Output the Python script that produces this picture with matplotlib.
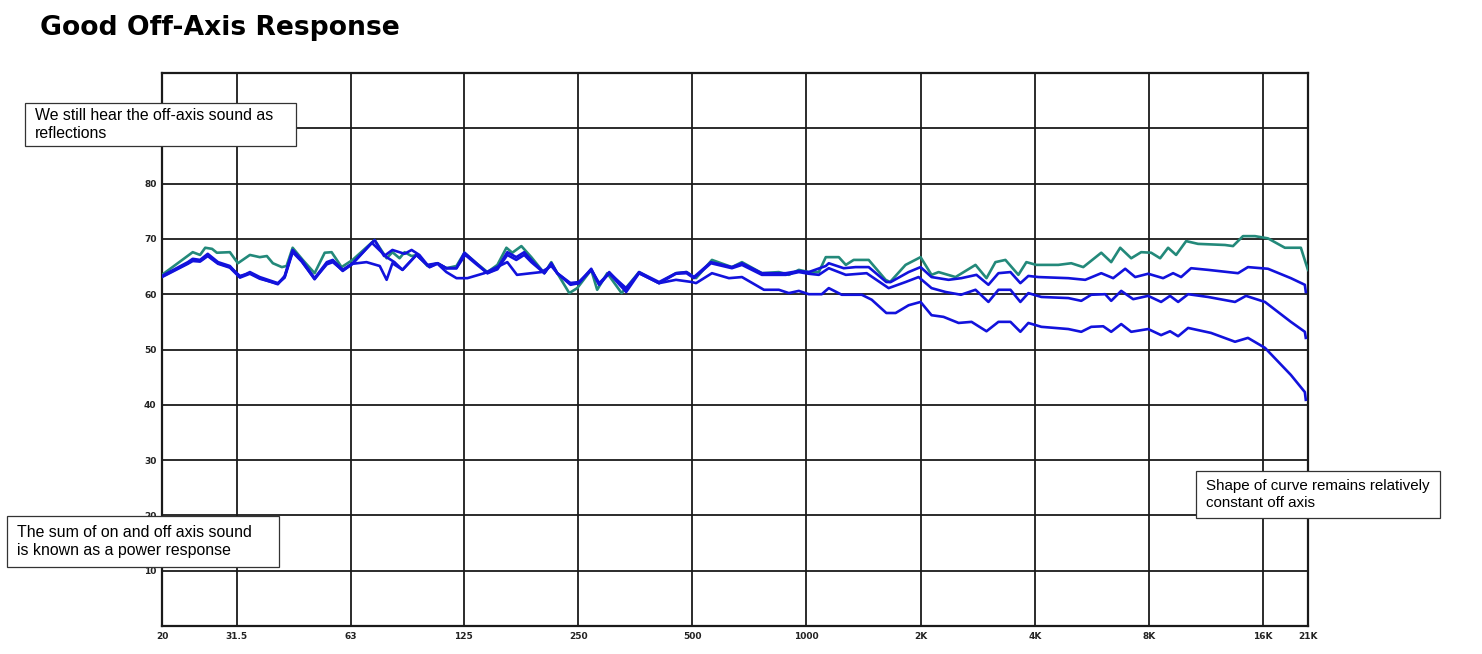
import matplotlib
matplotlib.use("Agg")
import matplotlib.pyplot as plt
from matplotlib.patches import Rectangle

W, H = 1482, 654

# on-axis (teal)
green_freq = [20, 24.1, 25.2, 26, 27.1, 27.9, 30.2, 31.7, 34.1, 36.2, 37.8, 39.2, 41.4, 42.6,
              44.2, 47, 50.5, 53.7, 56, 59.5, 63.6, 72.7, 78.2, 81, 84.6, 87.2, 91, 94.3,
              100.2, 106.5, 112.4, 119.5, 125.4, 134.9, 144.2, 153.2, 161.8, 167.7, 177.2,
              188.2, 203.7, 212.5, 220.3, 237, 248.7, 270.8, 280.7, 298.4, 325.6, 362, 408.7,
              453, 482.8, 511.6, 563.5, 636, 676, 763, 845.6, 898.6, 954.7, 1014, 1078, 1124.5,
              1217, 1270, 1332, 1459, 1617, 1661, 1825, 1999, 2137, 2230, 2472, 2790, 2983,
              3149, 3346, 3620, 3800, 4037, 4614, 4990, 5367, 5987, 6359, 6716, 7180, 7628,
              8105, 8559, 8982, 9430, 10021, 10775, 12687, 13320, 14152, 15218, 16466, 18250,
              20110, 20720, 21000]
green_db = [63.5, 67.6, 67.1, 68.4, 68.2, 67.5, 67.6, 65.6, 67.1, 66.7, 66.9, 65.6, 64.9, 65.1,
            68.4, 66.2, 63.8, 67.5, 67.6, 64.9, 66.2, 69.8, 66.5, 67.6, 66.5, 67.6, 66.9, 67.1,
            65.1, 65.6, 64.7, 65.1, 67.5, 65.6, 64.0, 65.3, 68.4, 67.5, 68.7,
            66.7, 63.8, 65.8, 63.8, 60.2, 61.1, 64.4, 60.8, 63.8, 60.2, 64.0, 62.0,
            63.8, 64.0, 62.9, 66.2, 64.9, 65.8, 63.8, 64.0, 63.5, 64.4, 64.0, 64.0, 66.7,
            66.7, 65.3, 66.2, 66.2, 62.6, 62.2, 65.3, 66.7, 63.5, 64.0, 63.1, 65.3, 62.9,
            65.8, 66.2, 63.5, 65.8, 65.3, 65.3, 65.6, 64.9, 67.5, 65.8, 68.4, 66.5, 67.6,
            67.5, 66.5, 68.4, 67.1, 69.6, 69.1, 68.9, 68.7, 70.5, 70.5, 70.1, 68.4,
            68.4, 65.6, 64.4]

# off-axis curves (blue)
low_freq = [20, 23.4, 24.1, 25.2, 26.4, 28.1, 30.2, 32.1, 34.1, 36.2, 40.4, 42.1, 44.2,
            46.7, 50.5, 54.4, 56.4, 59.9, 63.6]
b1_low = [63.3, 65.8, 66.4, 66.2, 67.3, 65.8, 65.1, 63.1, 64.0, 63.1, 62.0, 63.1, 68.0,
          66.2, 62.9, 65.8, 66.2, 64.4, 65.6]
b2_low = [63.2, 65.6, 66.2, 66.0, 67.0, 65.6, 64.9, 63.3, 63.8, 62.9, 61.8, 63.3, 67.8,
          66.0, 62.7, 65.6, 66.0, 64.2, 65.5]
b3_low = [63.1, 65.5, 66.0, 65.9, 66.9, 65.5, 64.8, 63.0, 63.7, 62.8, 61.9, 63.0, 67.6,
          65.9, 62.8, 65.4, 65.8, 64.3, 65.5]

b1_freq = [72.7, 77, 81, 87.2, 91, 95.4, 100.2, 106.5, 112.4, 119.5, 125.4, 134.9, 144.2,
           153.2, 162.7, 171.8, 180.3, 188.2, 203.7, 212.5, 220.3, 238.8, 251, 270.8, 284.2,
           302, 334.7, 362, 408.7, 453, 482.8, 505, 560, 636, 676, 763, 882.4, 954.7, 1014,
           1124.5, 1145, 1254, 1348, 1459, 1624, 1668, 1859, 1999, 2137, 2369, 2560, 2807,
           3018, 3207, 3450, 3664, 3846, 4088, 4902, 5432, 5987, 6436, 6923, 7356, 7958,
           8714, 9260, 9721, 10327, 11448, 13731, 14585, 16466, 18925, 20600, 20720]
b1_db = [69.8, 66.9, 68.0, 67.3, 68.0, 67.1, 65.3, 65.6, 64.7, 64.7, 67.5, 65.6, 63.8,
         64.7, 67.6, 66.7, 67.6, 66.2, 63.8, 65.6, 63.8, 61.7, 62.0, 64.6, 61.7,
         64.0, 60.8, 64.0, 62.2, 63.8, 64.0, 63.1, 65.8, 64.9, 65.6, 63.8, 63.8, 64.2, 64.0,
         65.1, 65.6, 64.7, 64.9, 64.9, 62.2, 62.2, 64.0, 64.9, 63.1, 62.6, 62.9, 63.5,
         61.7, 63.8, 64.0, 62.0, 63.3, 63.1, 62.9, 62.6, 63.8, 62.9, 64.6, 63.1, 63.7,
         62.9, 63.8, 63.1, 64.7, 64.4, 63.8, 64.9, 64.6, 62.9, 61.7, 60.4]

b2_freq = [71.5, 78.2, 82, 86.1, 93.7, 101.5, 106.5, 112.4, 119.5, 126, 134.9, 144.2, 153.2,
           162.7, 171.8, 180.3, 188.2, 203.7, 212.5, 220.3, 238.8, 251, 270.8, 284.2, 302,
           334.7, 362, 408.7, 453, 482.8, 505, 560, 636, 676, 763, 882.4, 954.7, 1014, 1078,
           1145, 1270, 1441, 1647, 1825, 1975, 2137, 2327, 2555, 2790, 3018, 3207, 3450,
           3664, 3846, 4162, 4902, 5303, 5633, 6132, 6359, 6758, 7266, 7958, 8609, 9089,
           9547, 10143, 11448, 13484, 14410, 16170, 18925, 20600, 20720]
b2_db = [69.3, 66.7, 65.8, 64.4, 67.1, 64.9, 65.6, 64.7, 64.7, 67.1, 65.4, 63.8, 64.5,
         67.1, 66.2, 67.1, 65.8, 63.8, 65.5, 63.8, 62.0, 62.2, 64.4, 62.0, 63.8,
         61.1, 63.8, 62.0, 63.7, 63.8, 62.9, 65.6, 64.7, 65.3, 63.5, 63.5, 64.0, 63.7, 63.5,
         64.7, 63.5, 63.8, 61.1, 62.2, 63.1, 61.1, 60.4, 59.9, 60.8, 58.6, 60.8, 60.8,
         58.6, 60.2, 59.5, 59.3, 58.8, 59.9, 60.0, 58.8, 60.6, 59.1, 59.7, 58.6, 59.7,
         58.6, 60.0, 59.5, 58.6, 59.7, 58.6, 55.0, 53.2, 52.1]

b3_freq = [69.2, 75, 78.2, 81, 86.1, 93.7, 101.5, 106.5, 112.4, 119.5, 127.7, 141.5, 162.7,
           172.5, 188.2, 200, 212.5, 220.3, 237, 251, 270.8, 284.2, 302, 334.7, 362, 408.7,
           453, 499, 511.6, 563.5, 624.6, 676, 772.5, 845.6, 898.6, 954.7, 1014, 1097.5,
           1145, 1239, 1399, 1486, 1624, 1718, 1859, 1999, 2137, 2298, 2518, 2724, 2983,
           3207, 3450, 3664, 3846, 4162, 4902, 5303, 5633, 6058, 6359, 6758, 7180, 7958,
           8609, 9089, 9547, 10143, 11654, 13484, 14585, 16170, 18925, 20600, 20720]
b3_db = [65.8, 65.1, 62.6, 65.6, 64.4, 67.1, 64.9, 65.5, 64.0, 62.9, 62.9, 63.8, 65.8,
         63.5, 63.8, 64.0, 65.1, 63.8, 62.0, 62.0, 64.4, 61.7, 63.8, 60.4, 63.8, 62.0,
         62.6, 62.2, 62.0, 63.8, 62.9, 63.1, 60.8, 60.8, 60.2, 60.6, 60.0, 60.0,
         61.1, 59.9, 59.9, 59.0, 56.6, 56.6, 58.0, 58.6, 56.2, 55.9, 54.8, 55.0, 53.3,
         55.0, 55.0, 53.2, 54.8, 54.1, 53.7, 53.2, 54.1, 54.2, 53.2, 54.6, 53.2, 53.7,
         52.6, 53.3, 52.4, 53.9, 53.0, 51.4, 52.1, 50.3, 45.4, 42.3, 40.9]

x_ticks = [20, 31.5, 63, 125, 250, 500, 1000, 2000, 4000, 8000, 16000, 21000]
x_labels = ["20", "31.5", "63", "125", "250", "500", "1000", "2K", "4K", "8K", "16K", "21K"]
y_ticks = [10, 20, 30, 40, 50, 60, 70, 80]

GREEN = "#23897a"
BLUE = "#1212dc"


def fx(px):
    return px / W


def fy(py):
    return 1 - py / H


fig = plt.figure(figsize=(W / 100, H / 100), dpi=100)
ax = fig.add_axes([fx(162), fy(626), fx(1308) - fx(162), fy(73) - fy(626)])

ax.set_xscale("log")
ax.set_xlim(20, 21000)
ax.set_ylim(0, 100)

for t in x_ticks:
    ax.axvline(t, color="#1a1a1a", lw=1.3, zorder=1)
for t in range(10, 100, 10):
    ax.axhline(t, color="#1a1a1a", lw=1.3, zorder=1)

ax.plot(green_freq, green_db, color=GREEN, lw=1.9, zorder=3)
ax.plot(low_freq + b1_freq, b1_low + b1_db, color=BLUE, lw=1.9, zorder=4)
ax.plot(low_freq + b2_freq, b2_low + b2_db, color=BLUE, lw=1.9, zorder=4)
ax.plot(low_freq + b3_freq, b3_low + b3_db, color=BLUE, lw=1.9, zorder=4)

ax.set_xticks(x_ticks)
ax.set_xticklabels(x_labels)
ax.xaxis.set_minor_locator(plt.NullLocator())
ax.set_yticks(y_ticks)
ax.set_yticklabels([str(v) for v in y_ticks])
ax.tick_params(axis="both", length=0, labelsize=6.5, colors="#222222", pad=4)
for lab in ax.get_xticklabels() + ax.get_yticklabels():
    lab.set_fontweight("bold")
for sp in ax.spines.values():
    sp.set_color("#1a1a1a")
    sp.set_linewidth(1.6)

fig.text(fx(40), fy(28), "Good Off-Axis Response", fontsize=19.2, fontweight="bold",
         family="DejaVu Sans", va="center", ha="left")


def note(x0, y0, x1, y1, lines, size):
    fig.add_artist(Rectangle((fx(x0), fy(y1)), fx(x1) - fx(x0), fy(y0) - fy(y1),
                             transform=fig.transFigure, facecolor="white",
                             edgecolor="#333333", lw=0.9, zorder=5))
    fig.text(fx(x0 + 10), fy((y0 + y1) / 2), lines, fontsize=size,
             family="Liberation Sans", va="center", ha="left", linespacing=1.25, zorder=6)


note(25, 103, 296, 146, "We still hear the off-axis sound as\nreflections", 11.4)
note(1196, 471, 1440, 518, "Shape of curve remains relatively\nconstant off axis", 10.9)
note(7, 516, 279, 567, "The sum of on and off axis sound\nis known as a power response", 11.4)

fig.savefig("out.png", dpi=100)
